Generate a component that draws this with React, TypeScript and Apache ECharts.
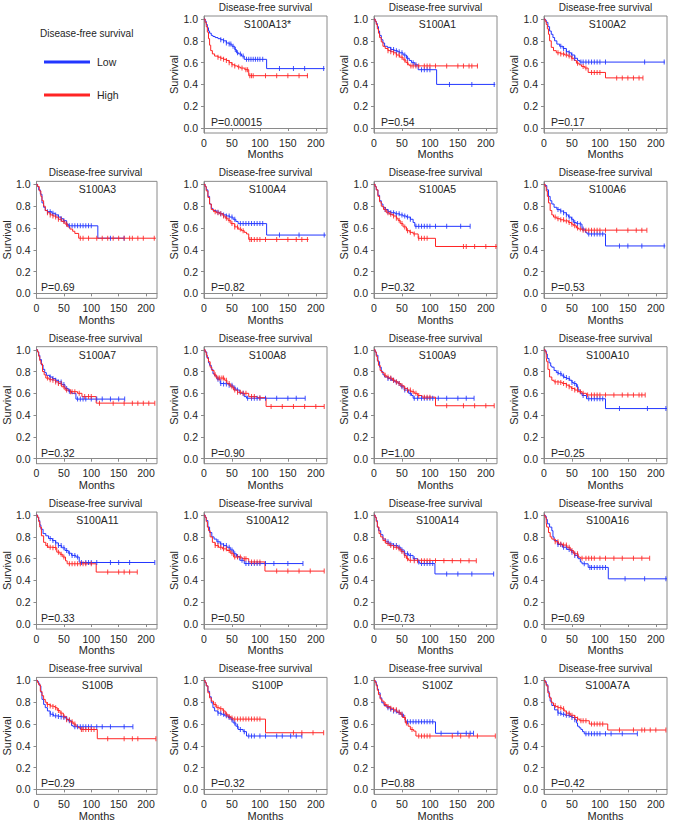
import React, { useEffect, useRef } from 'react';
import * as echarts from 'echarts';

// ---------- data ----------
const genes = ['S100A13*', 'S100A1', 'S100A2', 'S100A3', 'S100A4', 'S100A5', 'S100A6', 'S100A7', 'S100A8', 'S100A9',
  'S100A10', 'S100A11', 'S100A12', 'S100A14', 'S100A16', 'S100B', 'S100P', 'S100Z', 'S100A7A'];
const pValues = ['P=0.00015', 'P=0.54', 'P=0.17', 'P=0.69', 'P=0.82', 'P=0.32', 'P=0.53', 'P=0.32', 'P=0.90', 'P=1.00',
  'P=0.25', 'P=0.33', 'P=0.50', 'P=0.73', 'P=0.69', 'P=0.29', 'P=0.32', 'P=0.88', 'P=0.42'];
const xTicks = [0, 50, 100, 150, 200];
const yTicks = [0, 0.2, 0.4, 0.6, 0.8, 1.0];
const groupNames = ['Low', 'High'];
const legendTitle = 'Disease-free survival';
const panelTitle = 'Disease-free survival';

// Kaplan-Meier curves [months, survival] (low expression = blue)
const lowCurves: number[][][] = [
  [[0,1],[2,0.98],[4,0.95],[6,0.92],[8,0.89],[10,0.87],[13,0.85],[16,0.84],[20,0.83],[25,0.82],[30,0.81],[35,0.8],[40,0.78],[45,0.77],[50,0.75],[55,0.72],[58,0.69],[62,0.68],[67,0.66],[72,0.63],[112,0.545],[216,0.545]],
  [[0,1],[2,0.98],[4,0.96],[6,0.93],[8,0.89],[10,0.85],[13,0.81],[16,0.78],[19,0.75],[24,0.74],[30,0.72],[36,0.71],[42,0.7],[46,0.69],[52,0.67],[58,0.64],[63,0.62],[67,0.6],[73,0.58],[79,0.535],[112,0.4],[217,0.4]],
  [[0,1],[2,0.99],[4,0.97],[7,0.93],[10,0.89],[13,0.86],[16,0.83],[19,0.8],[23,0.77],[28,0.75],[34,0.73],[40,0.7],[45,0.69],[49,0.67],[55,0.64],[60,0.62],[64,0.605],[216,0.605]],
  [[0,1],[2,0.98],[4,0.95],[7,0.91],[10,0.83],[13,0.79],[16,0.76],[20,0.75],[28,0.735],[34,0.72],[40,0.7],[45,0.685],[49,0.667],[55,0.636],[58,0.62],[112,0.506],[160,0.506]],
  [[0,1],[2,0.98],[4,0.95],[7,0.89],[10,0.82],[13,0.78],[16,0.76],[22,0.745],[28,0.73],[34,0.72],[40,0.71],[46,0.7],[52,0.68],[57,0.66],[61,0.64],[112,0.535],[218,0.535]],
  [[0,1],[2,0.98],[4,0.95],[7,0.9],[10,0.85],[13,0.82],[16,0.79],[20,0.77],[25,0.75],[30,0.74],[38,0.73],[46,0.72],[52,0.71],[58,0.7],[65,0.68],[70,0.65],[73,0.615],[172,0.615]],
  [[0,1],[2,0.99],[5,0.95],[8,0.89],[11,0.85],[14,0.82],[18,0.79],[23,0.77],[29,0.755],[35,0.74],[40,0.72],[44,0.7],[49,0.68],[53,0.65],[58,0.64],[62,0.635],[68,0.59],[74,0.56],[77,0.545],[110,0.435],[217,0.435]],
  [[0,1],[2,0.98],[4,0.95],[6,0.91],[9,0.86],[12,0.82],[15,0.79],[18,0.765],[24,0.75],[29,0.735],[35,0.72],[40,0.705],[46,0.68],[52,0.645],[58,0.62],[64,0.6],[72,0.547],[161,0.547]],
  [[0,1],[2,0.98],[5,0.93],[8,0.88],[10,0.857],[13,0.82],[16,0.78],[19,0.76],[23,0.73],[29,0.69],[35,0.685],[45,0.675],[52,0.65],[57,0.63],[64,0.6],[72,0.57],[76,0.555],[181,0.555]],
  [[0,1],[2,0.98],[4,0.95],[7,0.89],[10,0.84],[13,0.8],[16,0.77],[19,0.75],[25,0.735],[31,0.72],[37,0.705],[43,0.69],[48,0.66],[54,0.63],[62,0.6],[67,0.58],[70,0.555],[179,0.555]],
  [[0,1],[2,0.99],[4,0.96],[6,0.92],[9,0.88],[12,0.85],[14,0.84],[18,0.81],[22,0.79],[26,0.78],[32,0.76],[36,0.745],[41,0.735],[46,0.72],[50,0.7],[53,0.69],[58,0.66],[61,0.63],[65,0.6],[68,0.58],[76,0.55],[110,0.46],[220,0.46]],
  [[0,1],[2,0.98],[4,0.95],[6,0.91],[8,0.87],[12,0.83],[17,0.81],[22,0.785],[29,0.766],[35,0.745],[40,0.72],[46,0.7],[52,0.675],[58,0.65],[64,0.63],[72,0.615],[78,0.57],[79,0.565],[216,0.565]],
  [[0,1],[2,0.98],[4,0.95],[7,0.89],[10,0.84],[14,0.8],[18,0.78],[23,0.755],[29,0.735],[35,0.72],[41,0.705],[47,0.68],[53,0.645],[58,0.62],[64,0.585],[72,0.555],[177,0.555]],
  [[0,1],[2,0.98],[4,0.95],[6,0.89],[8,0.857],[12,0.82],[16,0.78],[21,0.755],[27,0.735],[35,0.72],[43,0.705],[48,0.68],[54,0.645],[62,0.63],[70,0.6],[78,0.57],[82,0.555],[109,0.46],[214,0.46]],
  [[0,1],[2,0.99],[4,0.96],[6,0.92],[10,0.89],[14,0.857],[16,0.8],[18,0.766],[24,0.73],[33,0.705],[41,0.685],[49,0.66],[55,0.63],[61,0.6],[65,0.57],[68,0.553],[79,0.52],[115,0.415],[220,0.415]],
  [[0,1],[2,0.99],[4,0.97],[6,0.95],[8,0.89],[10,0.826],[13,0.78],[16,0.75],[20,0.72],[25,0.69],[31,0.675],[37,0.67],[43,0.665],[49,0.66],[54,0.645],[58,0.63],[64,0.585],[67,0.575],[176,0.575]],
  [[0,1],[2,0.98],[4,0.95],[7,0.9],[10,0.85],[13,0.795],[16,0.75],[19,0.72],[25,0.7],[31,0.69],[37,0.675],[43,0.66],[48,0.64],[52,0.61],[57,0.58],[61,0.55],[70,0.53],[76,0.49],[175,0.49]],
  [[0,1],[2,0.99],[4,0.96],[6,0.92],[8,0.886],[11,0.84],[14,0.795],[18,0.77],[23,0.75],[29,0.735],[35,0.72],[41,0.705],[47,0.69],[53,0.66],[56,0.62],[110,0.515],[178,0.515]],
  [[0,1],[2,0.99],[4,0.96],[7,0.9],[9,0.85],[11,0.81],[14,0.77],[19,0.73],[25,0.7],[31,0.69],[38,0.68],[46,0.67],[50,0.66],[55,0.64],[58,0.61],[60,0.58],[63,0.565],[66,0.55],[69,0.53],[72,0.51],[167,0.51]],
];

// high expression = red
const highCurves: number[][][] = [
  [[0,1],[2,0.97],[4,0.93],[6,0.88],[8,0.82],[10,0.76],[12,0.71],[15,0.68],[19,0.66],[25,0.65],[30,0.64],[35,0.63],[40,0.62],[45,0.6],[50,0.58],[55,0.57],[60,0.56],[65,0.55],[73,0.535],[80,0.48],[186,0.48]],
  [[0,1],[2,0.98],[4,0.95],[6,0.91],[8,0.87],[10,0.83],[13,0.79],[16,0.75],[20,0.73],[25,0.71],[30,0.7],[35,0.69],[40,0.67],[46,0.65],[52,0.625],[57,0.6],[61,0.58],[64,0.57],[186,0.57]],
  [[0,1],[2,0.98],[4,0.95],[6,0.91],[8,0.86],[10,0.8],[13,0.74],[17,0.71],[22,0.69],[30,0.68],[37,0.67],[43,0.66],[49,0.64],[54,0.62],[58,0.595],[63,0.58],[67,0.565],[73,0.55],[79,0.51],[110,0.46],[177,0.46]],
  [[0,1],[2,0.98],[5,0.94],[8,0.89],[10,0.85],[13,0.8],[16,0.76],[20,0.74],[25,0.72],[30,0.71],[35,0.7],[40,0.68],[46,0.66],[52,0.636],[57,0.61],[61,0.59],[66,0.57],[70,0.55],[77,0.506],[218,0.506]],
  [[0,1],[2,0.98],[4,0.94],[7,0.88],[10,0.82],[13,0.77],[17,0.75],[22,0.74],[28,0.73],[34,0.71],[38,0.69],[43,0.67],[48,0.64],[55,0.61],[61,0.59],[67,0.575],[72,0.56],[76,0.545],[80,0.495],[187,0.495]],
  [[0,1],[2,0.98],[4,0.95],[7,0.89],[10,0.84],[13,0.8],[17,0.77],[22,0.74],[28,0.725],[34,0.71],[40,0.69],[43,0.67],[47,0.64],[52,0.61],[58,0.575],[64,0.56],[70,0.545],[79,0.505],[110,0.43],[220,0.43]],
  [[0,1],[2,0.98],[4,0.94],[6,0.89],[8,0.83],[11,0.76],[14,0.72],[17,0.7],[23,0.685],[29,0.675],[36,0.665],[44,0.65],[49,0.635],[53,0.62],[58,0.6],[62,0.59],[68,0.58],[184,0.58]],
  [[0,1],[2,0.98],[4,0.94],[6,0.9],[8,0.87],[11,0.8],[14,0.77],[17,0.74],[23,0.725],[29,0.72],[35,0.705],[40,0.69],[46,0.66],[52,0.63],[60,0.615],[75,0.6],[83,0.57],[109,0.51],[216,0.51]],
  [[0,1],[2,0.98],[4,0.95],[6,0.92],[8,0.89],[11,0.84],[14,0.81],[18,0.77],[22,0.74],[32,0.74],[37,0.72],[41,0.69],[47,0.66],[53,0.63],[60,0.61],[68,0.6],[80,0.57],[95,0.56],[111,0.48],[215,0.48]],
  [[0,1],[2,0.98],[4,0.94],[6,0.9],[8,0.857],[11,0.81],[14,0.79],[18,0.766],[22,0.75],[27,0.74],[33,0.72],[38,0.705],[43,0.69],[48,0.67],[54,0.645],[60,0.63],[66,0.615],[72,0.6],[78,0.58],[86,0.565],[110,0.486],[215,0.486]],
  [[0,1],[2,0.98],[4,0.93],[5,0.89],[7,0.82],[10,0.75],[14,0.72],[18,0.705],[25,0.7],[33,0.69],[40,0.675],[45,0.66],[49,0.645],[55,0.63],[61,0.615],[68,0.6],[76,0.585],[181,0.585]],
  [[0,1],[2,0.98],[4,0.94],[6,0.89],[9,0.81],[13,0.75],[17,0.72],[21,0.705],[28,0.7],[37,0.66],[43,0.64],[48,0.615],[53,0.58],[56,0.553],[109,0.477],[184,0.477]],
  [[0,1],[2,0.98],[4,0.94],[6,0.89],[8,0.857],[11,0.8],[15,0.75],[20,0.72],[26,0.705],[33,0.69],[41,0.675],[47,0.65],[53,0.615],[68,0.6],[80,0.57],[109,0.486],[215,0.486]],
  [[0,1],[2,0.98],[4,0.94],[6,0.89],[9,0.83],[12,0.8],[16,0.766],[21,0.74],[27,0.72],[35,0.705],[43,0.69],[48,0.665],[54,0.63],[58,0.6],[62,0.585],[70,0.58],[183,0.58]],
  [[0,1],[2,0.98],[4,0.93],[5,0.89],[8,0.84],[11,0.8],[14,0.78],[20,0.755],[26,0.735],[33,0.725],[41,0.705],[47,0.675],[53,0.645],[61,0.615],[65,0.605],[189,0.605]],
  [[0,1],[2,0.98],[4,0.96],[7,0.9],[10,0.86],[13,0.826],[16,0.8],[19,0.78],[25,0.765],[30,0.76],[34,0.75],[38,0.725],[43,0.7],[49,0.67],[55,0.64],[61,0.62],[67,0.6],[72,0.58],[76,0.566],[80,0.55],[111,0.465],[218,0.465]],
  [[0,1],[2,0.98],[4,0.95],[7,0.886],[10,0.84],[13,0.81],[17,0.78],[22,0.75],[28,0.74],[34,0.72],[38,0.69],[43,0.67],[48,0.655],[52,0.645],[110,0.52],[214,0.52]],
  [[0,1],[2,0.98],[4,0.95],[6,0.91],[8,0.87],[11,0.83],[14,0.81],[18,0.78],[23,0.76],[29,0.745],[35,0.73],[41,0.71],[47,0.69],[51,0.66],[56,0.61],[61,0.58],[65,0.55],[71,0.535],[75,0.49],[217,0.49]],
  [[0,1],[2,0.98],[4,0.95],[7,0.885],[10,0.84],[13,0.795],[17,0.77],[21,0.76],[25,0.75],[32,0.74],[36,0.72],[40,0.7],[47,0.68],[55,0.66],[60,0.645],[64,0.63],[81,0.6],[114,0.545],[218,0.545]],
];

// censoring times (months)
const lowCensors: number[][] = [
  [30,35,40,45,48,52,56,60,65,70,76,80,84,88,92,96,100,105,135,160,180,214],
  [30,35,40,45,50,55,60,70,75,85,90,95,100,135,175,215],
  [30,35,40,45,50,55,66,70,75,80,85,90,95,100,110,180,215],
  [20,25,30,35,40,45,50,55,60,65,70,75,80,85,90,95,100,135,160],
  [25,30,35,40,45,50,55,65,70,75,80,85,90,95,100,105,135,170,215],
  [20,25,30,35,40,45,50,55,60,65,75,80,85,90,95,100,110,130,155,172],
  [25,30,35,40,45,50,55,60,65,70,80,85,90,95,100,105,135,150,175,215],
  [25,30,35,40,45,50,55,60,75,80,85,90,100,110,120,135,150,161],
  [25,30,35,40,45,50,55,60,70,78,85,90,95,100,110,130,150,165,181],
  [25,30,35,40,45,50,55,60,65,72,78,85,90,95,100,105,115,130,150,165,179],
  [25,30,35,40,45,50,55,60,70,80,85,90,95,100,105,135,185,218],
  [25,30,35,40,45,50,55,60,65,70,75,82,90,95,100,110,135,150,170,216],
  [25,30,35,40,45,50,55,60,68,75,80,85,90,95,100,110,125,150,177],
  [25,30,35,40,45,50,55,60,65,72,80,85,90,95,100,105,130,150,175,214],
  [25,30,35,40,45,50,55,60,72,82,85,90,95,100,105,110,145,180,218],
  [25,30,35,40,45,50,55,60,70,75,80,85,90,95,100,110,120,135,160,176],
  [25,30,35,40,45,50,55,60,65,72,80,85,90,100,110,130,140,155,165,175],
  [25,30,35,40,45,50,60,65,70,75,80,85,90,95,100,105,120,150,165,172,178],
  [25,30,35,40,45,50,55,75,80,85,90,95,100,110,120,140,167],
];
const highCensors: number[][] = [
  [25,30,35,40,45,50,55,62,68,75,78,82,85,88,110,130,150,170,185],
  [25,30,35,40,45,50,55,60,66,70,75,80,90,95,100,110,130,150,160,170,175,185],
  [25,30,35,40,45,50,60,70,75,85,90,95,100,130,140,150,160,170,177],
  [20,25,30,35,40,45,50,55,80,85,95,110,120,130,140,150,160,170,175,185,195,215],
  [20,25,30,35,40,45,50,55,60,65,70,82,85,90,95,100,110,130,150,165,175,185],
  [20,25,30,35,40,45,50,55,60,65,72,80,85,90,95,160,165,180,200,218],
  [20,25,30,35,40,45,50,55,60,65,70,75,80,85,90,95,100,110,130,150,165,175,184],
  [20,25,30,35,40,45,50,55,62,65,70,78,88,95,100,115,140,160,175,185,195,205,216],
  [20,25,28,32,35,40,45,50,55,60,65,70,75,85,90,100,120,140,160,180,200,215],
  [20,25,30,35,40,45,50,55,60,65,70,75,80,90,95,100,130,160,180,200,215],
  [20,25,30,35,40,45,50,55,60,65,70,78,85,90,95,100,110,125,140,150,160,170,175,181],
  [20,25,30,35,40,45,50,60,65,70,75,80,85,90,100,130,150,160,170,184],
  [20,25,30,35,40,45,50,55,60,65,72,75,85,90,95,100,130,150,170,190,215],
  [20,25,30,35,40,45,50,55,60,65,72,78,85,90,95,100,110,125,140,155,170,183],
  [20,25,30,35,40,45,50,55,60,68,75,80,85,90,100,110,125,140,160,175,189],
  [20,25,30,35,40,45,50,55,60,65,70,82,85,90,95,100,105,130,160,175,185,218],
  [20,25,30,35,40,45,50,55,60,65,70,75,80,85,90,95,100,160,175,195,214],
  [20,25,30,35,40,45,50,55,58,68,80,85,90,95,100,140,155,170,185,217],
  [20,25,30,35,40,45,50,55,60,66,70,75,85,90,95,100,105,135,160,175,180,190,200,218],
];

// ---------- layout / style ----------
const BLUE = '#2236ff';
const RED = '#ff2424';
const AXIS_GRAY = '#8a8a8a';
const TEXT = '#262626';
const FONT = '"Liberation Sans", Arial, Helvetica, sans-serif';
const COL_LEFT = [34, 204, 374, 544];
const ROW_TOP0 = 16;
const ROW_PITCH = 165.35;
const BOX_W = 123;
const BOX_H = 117;

function survAt(curve: number[][], t: number): number {
  let s = 1;
  for (const [ti, si] of curve) {
    if (ti <= t) s = si;
    else break;
  }
  return s;
}

function buildOption() {
  const grid: any[] = [];
  const xAxis: any[] = [];
  const yAxis: any[] = [];
  const series: any[] = [];
  const graphic: any[] = [];

  genes.forEach((gene, i) => {
    const slot = i + 1;
    const row = Math.floor(slot / 4);
    const col = slot % 4;
    const left = COL_LEFT[col];
    const top = ROW_TOP0 + row * ROW_PITCH;

    grid.push({ left, top, width: BOX_W, height: BOX_H, show: true, borderColor: AXIS_GRAY, borderWidth: 1, containLabel: false });
    xAxis.push({
      gridIndex: i, type: 'value', min: 0, max: 220,
      name: 'Months', nameLocation: 'middle', nameGap: 15,
      nameTextStyle: { fontSize: 11, color: TEXT, fontFamily: FONT },
      axisLine: { show: true, lineStyle: { color: AXIS_GRAY, width: 1 } },
      axisTick: { show: true, length: 3, customValues: xTicks, lineStyle: { color: AXIS_GRAY } },
      axisLabel: { customValues: xTicks, fontSize: 10.5, color: TEXT, margin: 4, fontFamily: FONT },
      splitLine: { show: false },
    });
    yAxis.push({
      gridIndex: i, type: 'value', min: -0.046, max: 1.028,
      name: 'Survival', nameLocation: 'middle', nameGap: 20, nameRotate: 90,
      nameTextStyle: { fontSize: 11, color: TEXT, fontFamily: FONT },
      axisLine: { show: true, lineStyle: { color: AXIS_GRAY, width: 1 } },
      axisTick: { show: true, length: 3, customValues: yTicks, lineStyle: { color: AXIS_GRAY } },
      axisLabel: { customValues: yTicks, fontSize: 10.5, color: TEXT, margin: 6, fontFamily: FONT, formatter: (v: number) => v.toFixed(1) },
      splitLine: { show: false },
    });

    const groups = [
      { curve: lowCurves[i], cens: lowCensors[i], color: BLUE, name: groupNames[0] },
      { curve: highCurves[i], cens: highCensors[i], color: RED, name: groupNames[1] },
    ];
    groups.forEach((g) => {
      series.push({
        type: 'line', name: g.name, xAxisIndex: i, yAxisIndex: i, data: g.curve, step: 'end',
        showSymbol: false, symbol: 'none', lineStyle: { color: g.color, width: 1 }, itemStyle: { color: g.color },
        silent: true, z: 2,
      });
      series.push({
        type: 'scatter', name: g.name, xAxisIndex: i, yAxisIndex: i,
        data: g.cens.map((t) => [t, survAt(g.curve, t)]),
        symbol: 'rect', symbolSize: [1, 5], itemStyle: { color: g.color, opacity: 0.85 }, silent: true, z: 3,
      });
    });

    graphic.push({
      type: 'text', x: left + BOX_W / 2, y: top - 8.5,
      style: { text: panelTitle, fill: TEXT, font: `10px ${FONT}`, align: 'center', verticalAlign: 'middle' },
    });
    graphic.push({
      type: 'text', x: left + BOX_W / 2 + 2, y: top + 8,
      style: { text: gene, fill: TEXT, font: `10.5px ${FONT}`, align: 'center', verticalAlign: 'middle' },
    });
    graphic.push({
      type: 'text', x: left + 7, y: top + 106,
      style: { text: pValues[i], fill: TEXT, font: `10.5px ${FONT}`, align: 'left', verticalAlign: 'middle' },
    });
  });

  // legend block (top-left slot)
  graphic.push({ type: 'text', x: 40, y: 33, style: { text: legendTitle, fill: TEXT, font: `10px ${FONT}`, align: 'left', verticalAlign: 'middle' } });
  graphic.push({ type: 'line', shape: { x1: 44, y1: 62, x2: 90, y2: 62 }, style: { stroke: BLUE, lineWidth: 3 } });
  graphic.push({ type: 'text', x: 97, y: 62, style: { text: groupNames[0], fill: TEXT, font: `10.5px ${FONT}`, align: 'left', verticalAlign: 'middle' } });
  graphic.push({ type: 'line', shape: { x1: 44, y1: 95, x2: 90, y2: 95 }, style: { stroke: RED, lineWidth: 3 } });
  graphic.push({ type: 'text', x: 97, y: 95, style: { text: groupNames[1], fill: TEXT, font: `10.5px ${FONT}`, align: 'left', verticalAlign: 'middle' } });

  return {
    animation: false,
    backgroundColor: '#ffffff',
    textStyle: { fontFamily: FONT },
    grid, xAxis, yAxis, series, graphic,
  };
}

export default function App() {
  const ref = useRef<HTMLDivElement>(null);
  useEffect(() => {
    if (!ref.current) return;
    const chart = echarts.init(ref.current, undefined, { renderer: 'svg' });
    chart.setOption(buildOption() as any);
    return () => chart.dispose();
  }, []);
  return <div ref={ref} style={{ position: 'absolute', left: 0, top: 0, width: 679, height: 826 }} />;
}
